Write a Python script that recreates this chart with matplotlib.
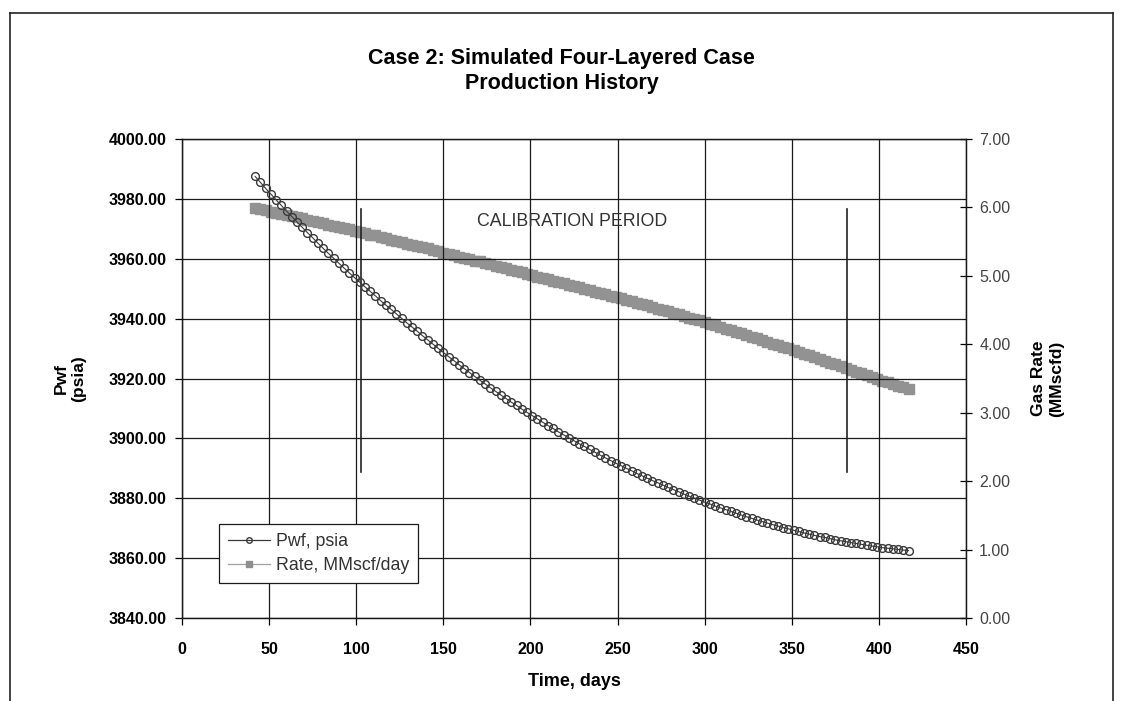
import matplotlib
matplotlib.use("Agg")
import matplotlib.pyplot as plt
from matplotlib.lines import Line2D
from matplotlib.ticker import FormatStrFormatter

plt.rcParams["font.family"] = ["Liberation Sans", "DejaVu Sans"]

# Production history, one point every 3 days
days = [42, 45, 48, 51, 54, 57, 60, 63, 66, 69,
        72, 75, 78, 81, 84, 87, 90, 93, 96, 99,
        102, 105, 108, 111, 114, 117, 120, 123, 126, 129,
        132, 135, 138, 141, 144, 147, 150, 153, 156, 159,
        162, 165, 168, 171, 174, 177, 180, 183, 186, 189,
        192, 195, 198, 201, 204, 207, 210, 213, 216, 219,
        222, 225, 228, 231, 234, 237, 240, 243, 246, 249,
        252, 255, 258, 261, 264, 267, 270, 273, 276, 279,
        282, 285, 288, 291, 294, 297, 300, 303, 306, 309,
        312, 315, 318, 321, 324, 327, 330, 333, 336, 339,
        342, 345, 348, 351, 354, 357, 360, 363, 366, 369,
        372, 375, 378, 381, 384, 387, 390, 393, 396, 399,
        402, 405, 408, 411, 414, 417]

pwf = [3987.5, 3985.5, 3983.5, 3981.6, 3979.7, 3977.8, 3975.9, 3974.1, 3972.3, 3970.5,
       3968.7, 3967.0, 3965.2, 3963.5, 3961.8, 3960.2, 3958.5, 3956.9, 3955.3, 3953.7,
       3952.2, 3950.6, 3949.1, 3947.6, 3946.0, 3944.5, 3943.1, 3941.6, 3940.1, 3938.6,
       3937.2, 3935.8, 3934.3, 3932.9, 3931.5, 3930.1, 3928.7, 3927.3, 3926.0, 3924.6,
       3923.3, 3922.0, 3920.7, 3919.4, 3918.2, 3916.9, 3915.7, 3914.5, 3913.3, 3912.1,
       3911.0, 3909.8, 3908.7, 3907.6, 3906.5, 3905.4, 3904.3, 3903.3, 3902.2, 3901.2,
       3900.2, 3899.2, 3898.2, 3897.3, 3896.3, 3895.4, 3894.4, 3893.5, 3892.6, 3891.7,
       3890.9, 3890.0, 3889.2, 3888.3, 3887.5, 3886.7, 3885.9, 3885.2, 3884.4, 3883.6,
       3882.9, 3882.2, 3881.4, 3880.7, 3880.1, 3879.4, 3878.7, 3878.1, 3877.4, 3876.8,
       3876.2, 3875.6, 3875.0, 3874.4, 3873.8, 3873.3, 3872.7, 3872.2, 3871.7, 3871.2,
       3870.7, 3870.2, 3869.8, 3869.3, 3868.9, 3868.4, 3868.0, 3867.6, 3867.2, 3866.9,
       3866.5, 3866.1, 3865.8, 3865.5, 3865.2, 3864.9, 3864.6, 3864.3, 3864.0, 3863.8,
       3863.5, 3863.3, 3863.1, 3862.9, 3862.7, 3862.5]

rate = [5.99, 5.97, 5.96, 5.94, 5.92, 5.91, 5.89, 5.87, 5.86, 5.84,
        5.82, 5.80, 5.79, 5.77, 5.75, 5.73, 5.72, 5.70, 5.68, 5.66,
        5.64, 5.62, 5.60, 5.59, 5.57, 5.55, 5.53, 5.51, 5.49, 5.47,
        5.45, 5.43, 5.42, 5.40, 5.38, 5.36, 5.34, 5.32, 5.30, 5.28,
        5.26, 5.24, 5.22, 5.21, 5.19, 5.17, 5.15, 5.13, 5.11, 5.09,
        5.07, 5.05, 5.03, 5.01, 4.99, 4.97, 4.95, 4.93, 4.91, 4.89,
        4.87, 4.85, 4.83, 4.81, 4.79, 4.77, 4.75, 4.73, 4.71, 4.69,
        4.67, 4.65, 4.63, 4.61, 4.59, 4.57, 4.55, 4.52, 4.50, 4.48,
        4.46, 4.44, 4.41, 4.39, 4.37, 4.35, 4.32, 4.30, 4.28, 4.25,
        4.23, 4.21, 4.18, 4.16, 4.14, 4.11, 4.09, 4.06, 4.04, 4.01,
        3.99, 3.96, 3.94, 3.91, 3.89, 3.86, 3.84, 3.81, 3.78, 3.76,
        3.73, 3.71, 3.68, 3.65, 3.63, 3.60, 3.58, 3.55, 3.52, 3.50,
        3.47, 3.45, 3.42, 3.39, 3.37, 3.34]

# calibration window markers (day, bottom psia, top psia)
calib_days = [102.5, 381.7]
calib_low = 3888.7
calib_high = 3976.7

x_ticks = [0, 50, 100, 150, 200, 250, 300, 350, 400, 450]
p_ticks = [3840, 3860, 3880, 3900, 3920, 3940, 3960, 3980, 4000]
q_ticks = [0, 1, 2, 3, 4, 5, 6, 7]

fig = plt.figure(figsize=(11.23, 7.01), dpi=100)
ax = fig.add_axes([0.1621, 0.1184, 0.6981, 0.6833])
ax2 = ax.twinx()

# pressure axis sits on top so the circles show over the rate band
ax.set_zorder(ax2.get_zorder() + 1)
ax.patch.set_visible(False)

ax2.plot(days, rate, color="#929292", lw=1, marker="s", ms=6.5,
         mec="#929292", mfc="#929292", zorder=3)
ax.plot(days, pwf, color="#3a3a3a", lw=0.8, marker="o", ms=5.6,
        mfc="none", mec="#3a3a3a", mew=1.0, zorder=4)

for d in calib_days:
    ax.plot([d, d], [calib_low, calib_high], color="#222222", lw=1.2, zorder=3)
ax.text(224, 3972.3, "CALIBRATION PERIOD", ha="center", va="center",
        fontsize=12.8, color="#333333")

ax.set_xlim(0, 450)
ax.set_ylim(3840, 4000)
ax2.set_ylim(0, 7)
ax.set_xticks(x_ticks)
ax.set_yticks(p_ticks)
ax2.set_yticks(q_ticks)
ax.yaxis.set_major_formatter(FormatStrFormatter("%.2f"))
ax2.yaxis.set_major_formatter(FormatStrFormatter("%.2f"))

ax.grid(True, color="#1a1a1a", lw=0.9)
ax.set_axisbelow(True)
for a in (ax, ax2):
    for s in a.spines.values():
        s.set_color("#1a1a1a")
        s.set_linewidth(0.9)

ax.tick_params(axis="y", direction="out", length=5, width=0.9,
               labelsize=11.5, pad=6)
ax.tick_params(axis="x", direction="out", length=5, width=0.9,
               labelsize=11.5, pad=12)
ax2.tick_params(axis="y", direction="inout", length=9, width=0.9,
                labelsize=11.5, labelcolor="#444444", pad=5)
for lbl in ax.get_xticklabels() + ax.get_yticklabels():
    lbl.set_fontweight("bold")

ax.set_xlabel("Time, days", fontsize=13, fontweight="bold", labelpad=12)
ax.set_ylabel("Pwf\n(psia)", fontsize=12.5, fontweight="bold", labelpad=16)
ax2.set_ylabel("Gas Rate\n(MMscfd)", fontsize=12.5, fontweight="bold",
               labelpad=15)

fig.text(0.5, 0.899, "Case 2: Simulated Four-Layered Case\nProduction History",
         ha="center", va="center", fontsize=15.5, fontweight="bold",
         linespacing=1.25)

handles = [
    Line2D([], [], color="#3a3a3a", lw=0.9, marker="o", ms=4, mfc="none",
           mec="#3a3a3a"),
    Line2D([], [], color="#a0a0a0", lw=0.9, marker="s", ms=4, mfc="#8e8e8e",
           mec="#8e8e8e"),
]
leg = ax.legend(handles, ["Pwf, psia", "Rate, MMscf/day"], loc="lower left",
                bbox_to_anchor=(0.047, 0.073), borderaxespad=0, fontsize=12.8,
                frameon=True, fancybox=False, framealpha=1, handlelength=2.4,
                handletextpad=0.3, borderpad=0.5, labelspacing=0.4)
leg.get_frame().set_edgecolor("#1a1a1a")
leg.get_frame().set_linewidth(0.9)
for t in leg.get_texts():
    t.set_color("#333333")

# page border around the chart
fig.add_artist(Line2D([0.009, 0.009], [0.0, 0.981], color="#222222", lw=1.2))
fig.add_artist(Line2D([0.009, 0.991], [0.981, 0.981], color="#222222", lw=1.2))
fig.add_artist(Line2D([0.991, 0.991], [0.0, 0.981], color="#222222", lw=1.2))

fig.savefig("out.png", dpi=100)
